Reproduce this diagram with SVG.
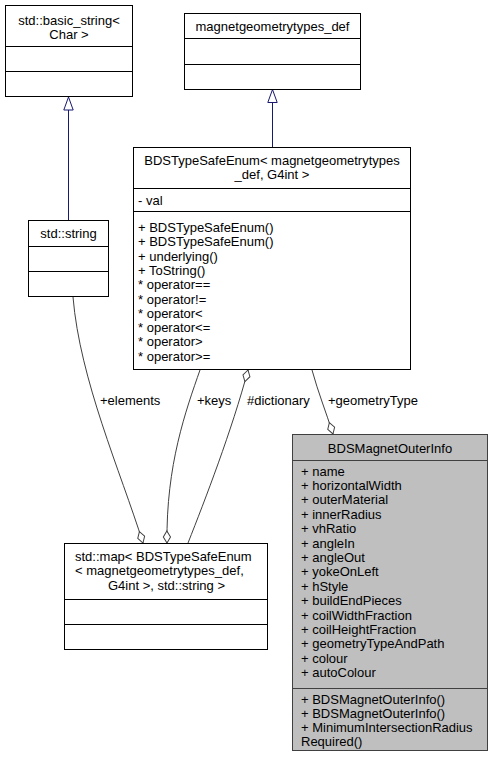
<svg xmlns="http://www.w3.org/2000/svg" width="493" height="765" viewBox="0 0 493 765">
<style>
text{font-family:"Liberation Sans",Arial,Helvetica,sans-serif;font-size:13px;fill:#000}
.c{text-anchor:middle}
.box{fill:#fff;stroke:#000;stroke-width:1}
.sel{fill:#bfbfbf;stroke:#404040;stroke-width:1}
.sep{stroke:#000;stroke-width:1}
.sep2{stroke:#404040;stroke-width:1}
.inh{fill:none;stroke:#191970;stroke-width:1}
.use{fill:none;stroke:#404040;stroke-width:1}
</style>
<defs>
<marker id="tri" markerUnits="userSpaceOnUse" markerWidth="14" markerHeight="14" refX="0" refY="0" viewBox="-14 -7 14 14" orient="auto" overflow="visible">
<path d="M0,0 L-13,-4.7 L-13,4.7 Z" fill="#fff" stroke="#191970" stroke-width="1"/>
</marker>
<marker id="dia" markerUnits="userSpaceOnUse" markerWidth="14" markerHeight="14" refX="0" refY="0" viewBox="-14 -7 14 14" orient="auto" overflow="visible">
<path d="M0,0 L-6,-3.6 L-12,0 L-6,3.6 Z" fill="#fff" stroke="#404040" stroke-width="1"/>
</marker>
</defs>

<g id="connectors">
<path class="inh" d="M68.5,220 L68.5,97" marker-end="url(#tri)"/>
<path class="inh" d="M272.5,147 L272.5,89.5" marker-end="url(#tri)"/>
<path class="use" d="M73,297 C80,380 120,470 143,543" marker-end="url(#dia)"/>
<path class="use" d="M200,370 C186,410 166,465 167,543" marker-end="url(#dia)"/>
<path class="use" d="M188,543 C205,500 232,430 248,370" marker-end="url(#dia)"/>
<path class="use" d="M312,370 C318,392 326,412 333,434" marker-end="url(#dia)"/>
<text x="100" y="404.5">+elements</text>
<text x="197" y="404.5">+keys</text>
<text x="247" y="404.5">#dictionary</text>
<text x="328" y="404.5">+geometryType</text>
</g>

<g id="basic_string">
<rect class="box" x="5.5" y="5.5" width="127" height="91"/>
<text class="c" x="69" y="24.5">std::basic_string&lt;</text>
<text class="c" x="69" y="38.5">Char &gt;</text>
<line class="sep" x1="5.5" y1="46.5" x2="132.5" y2="46.5"/>
<line class="sep" x1="5.5" y1="71.5" x2="132.5" y2="71.5"/>
</g>

<g id="std_string">
<rect class="box" x="28.5" y="220.5" width="80" height="76"/>
<text class="c" x="68.5" y="237.5">std::string</text>
<line class="sep" x1="28.5" y1="246.5" x2="108.5" y2="246.5"/>
<line class="sep" x1="28.5" y1="271.5" x2="108.5" y2="271.5"/>
</g>

<g id="magnetgeometrytypes_def">
<rect class="box" x="184.5" y="13.5" width="176" height="76"/>
<text class="c" x="272.5" y="30.5">magnetgeometrytypes_def</text>
<line class="sep" x1="184.5" y1="38.5" x2="360.5" y2="38.5"/>
<line class="sep" x1="184.5" y1="64.5" x2="360.5" y2="64.5"/>
</g>

<g id="BDSTypeSafeEnum">
<rect class="box" x="133.5" y="147.5" width="277" height="222"/>
<text class="c" x="272" y="164.5">BDSTypeSafeEnum&lt; magnetgeometrytypes</text>
<text class="c" x="272" y="178.5">_def, G4int &gt;</text>
<line class="sep" x1="133.5" y1="188.5" x2="410.5" y2="188.5"/>
<text x="138" y="204.5">- val</text>
<line class="sep" x1="133.5" y1="211.5" x2="410.5" y2="211.5"/>
<text x="138" y="232">+ BDSTypeSafeEnum()</text>
<text x="138" y="246.3">+ BDSTypeSafeEnum()</text>
<text x="138" y="260.6">+ underlying()</text>
<text x="138" y="274.9">+ ToString()</text>
<text x="138" y="289.2">* operator==</text>
<text x="138" y="303.5">* operator!=</text>
<text x="138" y="317.8">* operator&lt;</text>
<text x="138" y="332.1">* operator&lt;=</text>
<text x="138" y="346.4">* operator&gt;</text>
<text x="138" y="360.7">* operator&gt;=</text>
</g>

<g id="std_map">
<rect class="box" x="64.5" y="543.5" width="203" height="106"/>
<text x="75" y="561">std::map&lt; BDSTypeSafeEnum</text>
<text x="75" y="575.3">&lt; magnetgeometrytypes_def,</text>
<text class="c" x="166.5" y="589.6">G4int &gt;, std::string &gt;</text>
<line class="sep" x1="64.5" y1="599.5" x2="267.5" y2="599.5"/>
<line class="sep" x1="64.5" y1="624.5" x2="267.5" y2="624.5"/>
</g>

<g id="BDSMagnetOuterInfo">
<rect class="sel" x="292.5" y="434.5" width="195" height="316"/>
<text class="c" x="390" y="453">BDSMagnetOuterInfo</text>
<line class="sep2" x1="292.5" y1="460.5" x2="487.5" y2="460.5"/>
<text x="301" y="475.5">+ name</text>
<text x="301" y="489.9">+ horizontalWidth</text>
<text x="301" y="504.3">+ outerMaterial</text>
<text x="301" y="518.7">+ innerRadius</text>
<text x="301" y="533.1">+ vhRatio</text>
<text x="301" y="547.5">+ angleIn</text>
<text x="301" y="561.9">+ angleOut</text>
<text x="301" y="576.3">+ yokeOnLeft</text>
<text x="301" y="590.7">+ hStyle</text>
<text x="301" y="605.1">+ buildEndPieces</text>
<text x="301" y="619.5">+ coilWidthFraction</text>
<text x="301" y="633.9">+ coilHeightFraction</text>
<text x="301" y="648.3">+ geometryTypeAndPath</text>
<text x="301" y="662.7">+ colour</text>
<text x="301" y="677.1">+ autoColour</text>
<line class="sep2" x1="292.5" y1="688.5" x2="487.5" y2="688.5"/>
<text x="301" y="704">+ BDSMagnetOuterInfo()</text>
<text x="301" y="718">+ BDSMagnetOuterInfo()</text>
<text x="301" y="732">+ MinimumIntersectionRadius</text>
<text x="301" y="746">Required()</text>
</g>
</svg>
